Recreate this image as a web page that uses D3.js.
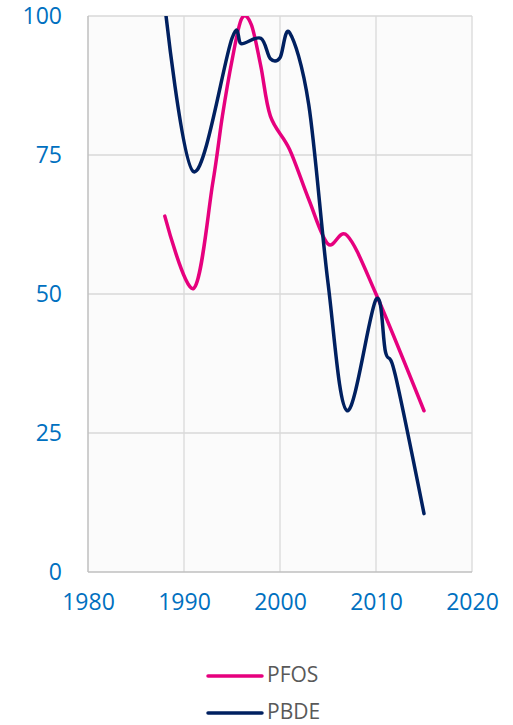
<!DOCTYPE html>
<html>
<head>
<meta charset="utf-8">
<script src="https://cdn.jsdelivr.net/npm/d3@7"></script>
<style>
    body { margin: 0; background: #ffffff; }
    svg { display: block; font-family: "Open Sans", "Noto Sans", sans-serif; }
</style>
</head>
<body>
<svg id="chart" width="513" height="725"></svg>
<script>
// data
const pfosYears = [1988, 1991, 1993, 1994, 1995, 1996, 1997, 1998, 1999, 2001, 2003, 2005, 2007, 2010, 2015];
const pfosValues = [64, 51, 70, 82, 92, 99.5, 98.5, 91, 82, 76, 67, 59, 60.5, 50, 29];

const pbdeYears = [1988, 1991, 1995, 1996, 1998, 1999, 2000, 2001, 2003, 2005, 2007, 2010, 2011, 2012, 2015];
const pbdeValues = [102, 72, 96, 95, 96, 92.3, 92.5, 97, 84, 52, 29, 49, 39.5, 35.5, 10.5];

const xTicks = [1980, 1990, 2000, 2010, 2020];
const yTicks = [0, 25, 50, 75, 100];

const seriesNames = ["PFOS", "PBDE"];
const seriesColors = ["#e6007e", "#002060"];

const DIM = {left: 88, right: 472, top: 16, bottom: 572};

const svg = d3.select("#chart");

const xScale = d3.scaleLinear()
    .domain([1980, 2020])
    .range([DIM.left, DIM.right]);

const yScale = d3.scaleLinear()
    .domain([0, 100])
    .range([DIM.bottom, DIM.top]);

// plot background
svg.append("rect")
    .attr("x", DIM.left)
    .attr("y", DIM.top)
    .attr("width", DIM.right - DIM.left)
    .attr("height", DIM.bottom - DIM.top)
    .attr("fill", "#fbfbfb");

// grid
const grid = svg.append("g").attr("class", "grid");
grid.selectAll(".vline")
    .data(xTicks.slice(1))
    .enter()
    .append("line")
    .attr("x1", d => xScale(d))
    .attr("x2", d => xScale(d))
    .attr("y1", DIM.top)
    .attr("y2", DIM.bottom)
    .attr("stroke", "#d9d9d9")
    .attr("stroke-width", 1.3);

grid.selectAll(".hline")
    .data(yTicks.slice(1))
    .enter()
    .append("line")
    .attr("x1", DIM.left)
    .attr("x2", DIM.right)
    .attr("y1", d => yScale(d))
    .attr("y2", d => yScale(d))
    .attr("stroke", "#d9d9d9")
    .attr("stroke-width", 1.3);

// axes (labels only, lines drawn by hand below)
svg.append("g")
    .attr("class", "y-axis")
    .attr("transform", "translate(" + DIM.left + ",0)")
    .call(d3.axisLeft(yScale).tickValues(yTicks).tickSize(0).tickPadding(26));

svg.append("g")
    .attr("class", "x-axis")
    .attr("transform", "translate(0," + DIM.bottom + ")")
    .call(d3.axisBottom(xScale).tickValues(xTicks).tickSize(0).tickPadding(22).tickFormat(d3.format("d")));

svg.selectAll(".x-axis .domain, .y-axis .domain").remove();
svg.selectAll(".x-axis text, .y-axis text")
    .attr("fill", "#0070c0")
    .style("font-size", "23px")
    .style("font-family", "'Open Sans', sans-serif");

svg.append("line")
    .attr("x1", DIM.left).attr("x2", DIM.left)
    .attr("y1", DIM.top).attr("y2", DIM.bottom)
    .attr("stroke", "#bfbfbf").attr("stroke-width", 1.5);
svg.append("line")
    .attr("x1", DIM.left).attr("x2", DIM.right)
    .attr("y1", DIM.bottom).attr("y2", DIM.bottom)
    .attr("stroke", "#bfbfbf").attr("stroke-width", 1.5);

// lines, clipped to the plot area
svg.append("clipPath")
    .attr("id", "plot-clip")
    .append("rect")
    .attr("x", DIM.left)
    .attr("y", DIM.top)
    .attr("width", DIM.right - DIM.left)
    .attr("height", DIM.bottom - DIM.top);

const line = d3.line()
    .x(d => xScale(d[0]))
    .y(d => yScale(d[1]))
    .curve(d3.curveCardinal.tension(0)); // same as excel smoothing

const series = [
    d3.zip(pfosYears, pfosValues),
    d3.zip(pbdeYears, pbdeValues)
];

svg.append("g")
    .attr("clip-path", "url(#plot-clip)")
    .selectAll("path")
    .data(series)
    .enter()
    .append("path")
    .attr("d", line)
    .attr("fill", "none")
    .attr("stroke", (d, i) => seriesColors[i])
    .attr("stroke-width", 3.5)
    .attr("stroke-linecap", "round")
    .attr("stroke-linejoin", "round");

// legend
const legend = svg.append("g").attr("class", "legend");
const legendItem = legend.selectAll("g")
    .data(seriesNames)
    .enter()
    .append("g")
    .attr("transform", (d, i) => "translate(208," + (676 + i * 37) + ")");

legendItem.append("line")
    .attr("x1", 0)
    .attr("x2", 54)
    .attr("stroke", (d, i) => seriesColors[i])
    .attr("stroke-width", 3.5)
    .attr("stroke-linecap", "round");

legendItem.append("text")
    .attr("x", 59)
    .attr("y", 6)
    .attr("fill", "#595959")
    .style("font-size", "21px")
    .text(d => d);
</script>
</body>
</html>
